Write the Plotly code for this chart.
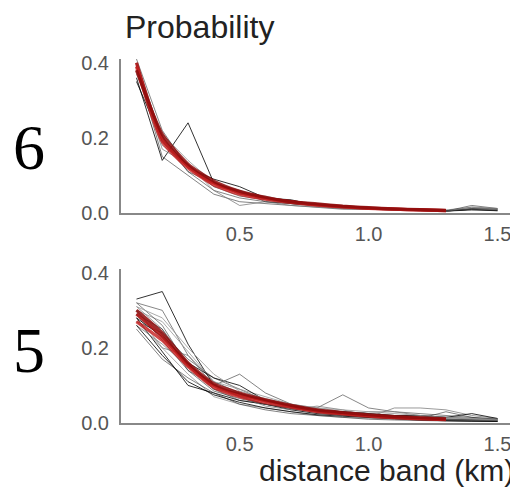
import plotly.graph_objects as go
from plotly.subplots import make_subplots

x_gray = [0.1, 0.2, 0.3, 0.4, 0.5, 0.6, 0.7, 0.8, 0.9, 1.0, 1.1, 1.2, 1.3, 1.4, 1.5]
x_red = [0.1, 0.2, 0.3, 0.4, 0.5, 0.6, 0.7, 0.8, 0.9, 1.0, 1.1, 1.2, 1.3]

gray_6 = [
    [0.36, 0.14, 0.24, 0.08, 0.05, 0.04, 0.025, 0.02, 0.015, 0.01, 0.01, 0.008, 0.005, 0.01, 0.008],
    [0.40, 0.20, 0.11, 0.06, 0.04, 0.03, 0.025, 0.02, 0.015, 0.012, 0.01, 0.008, 0.006, 0.012, 0.01],
    [0.38, 0.18, 0.13, 0.07, 0.06, 0.04, 0.03, 0.02, 0.02, 0.015, 0.01, 0.01, 0.008, 0.015, 0.01],
    [0.39, 0.15, 0.10, 0.05, 0.03, 0.025, 0.02, 0.015, 0.01, 0.01, 0.008, 0.006, 0.005, 0.02, 0.012],
    [0.37, 0.21, 0.14, 0.08, 0.05, 0.045, 0.03, 0.02, 0.018, 0.012, 0.01, 0.008, 0.006, 0.01, 0.008],
    [0.35, 0.19, 0.12, 0.09, 0.07, 0.04, 0.035, 0.02, 0.015, 0.012, 0.01, 0.008, 0.005, 0.008, 0.006],
    [0.41, 0.22, 0.12, 0.07, 0.045, 0.035, 0.025, 0.018, 0.012, 0.01, 0.008, 0.006, 0.005, 0.012, 0.01],
    [0.38, 0.17, 0.13, 0.06, 0.02, 0.03, 0.02, 0.015, 0.012, 0.01, 0.008, 0.006, 0.004, 0.016, 0.012],
    [0.39, 0.19, 0.11, 0.08, 0.06, 0.03, 0.025, 0.02, 0.015, 0.012, 0.01, 0.007, 0.005, 0.01, 0.006],
]
red_6 = [
    [0.40, 0.20, 0.125, 0.08, 0.055, 0.04, 0.03, 0.022, 0.017, 0.013, 0.01, 0.008, 0.006],
    [0.39, 0.19, 0.12, 0.075, 0.05, 0.037, 0.028, 0.021, 0.016, 0.012, 0.01, 0.008, 0.006],
    [0.38, 0.21, 0.13, 0.085, 0.058, 0.042, 0.03, 0.024, 0.018, 0.014, 0.011, 0.009, 0.007],
]

gray_5 = [
    [0.33, 0.35, 0.21, 0.10, 0.07, 0.05, 0.04, 0.03, 0.025, 0.02, 0.015, 0.012, 0.01, 0.01, 0.008],
    [0.32, 0.30, 0.18, 0.11, 0.08, 0.06, 0.045, 0.04, 0.075, 0.04, 0.03, 0.025, 0.02, 0.015, 0.01],
    [0.31, 0.25, 0.16, 0.09, 0.06, 0.05, 0.04, 0.03, 0.02, 0.015, 0.04, 0.04, 0.035, 0.02, 0.012],
    [0.30, 0.22, 0.14, 0.10, 0.13, 0.08, 0.05, 0.035, 0.03, 0.025, 0.02, 0.018, 0.015, 0.012, 0.01],
    [0.29, 0.20, 0.13, 0.07, 0.05, 0.04, 0.03, 0.02, 0.015, 0.012, 0.01, 0.008, 0.006, 0.005, 0.005],
    [0.28, 0.19, 0.10, 0.08, 0.06, 0.05, 0.035, 0.025, 0.02, 0.015, 0.012, 0.01, 0.008, 0.006, 0.005],
    [0.27, 0.24, 0.17, 0.12, 0.09, 0.06, 0.04, 0.03, 0.025, 0.02, 0.015, 0.012, 0.01, 0.008, 0.006],
    [0.26, 0.21, 0.15, 0.09, 0.07, 0.05, 0.04, 0.03, 0.02, 0.03, 0.03, 0.02, 0.015, 0.01, 0.008],
    [0.25, 0.17, 0.12, 0.08, 0.05, 0.035, 0.025, 0.02, 0.015, 0.01, 0.008, 0.006, 0.005, 0.004, 0.004],
    [0.30, 0.27, 0.19, 0.11, 0.09, 0.07, 0.05, 0.04, 0.03, 0.02, 0.02, 0.015, 0.012, 0.01, 0.008],
    [0.28, 0.23, 0.16, 0.12, 0.10, 0.06, 0.045, 0.035, 0.03, 0.025, 0.02, 0.02, 0.015, 0.025, 0.012],
    [0.32, 0.26, 0.15, 0.09, 0.08, 0.055, 0.04, 0.03, 0.025, 0.02, 0.015, 0.012, 0.01, 0.008, 0.006],
    [0.27, 0.20, 0.18, 0.10, 0.07, 0.045, 0.035, 0.045, 0.035, 0.02, 0.015, 0.01, 0.008, 0.006, 0.005],
    [0.29, 0.25, 0.14, 0.085, 0.065, 0.05, 0.038, 0.028, 0.022, 0.018, 0.015, 0.012, 0.03, 0.015, 0.01],
    [0.31, 0.28, 0.20, 0.13, 0.085, 0.065, 0.05, 0.04, 0.035, 0.03, 0.025, 0.02, 0.015, 0.012, 0.01],
    [0.26, 0.18, 0.11, 0.075, 0.055, 0.04, 0.03, 0.022, 0.018, 0.014, 0.01, 0.008, 0.006, 0.005, 0.004],
]
red_5 = [
    [0.29, 0.23, 0.155, 0.10, 0.075, 0.06, 0.045, 0.033, 0.026, 0.02, 0.016, 0.013, 0.01],
    [0.27, 0.22, 0.15, 0.095, 0.07, 0.055, 0.042, 0.03, 0.024, 0.018, 0.014, 0.011, 0.009],
    [0.30, 0.24, 0.16, 0.105, 0.08, 0.062, 0.047, 0.035, 0.028, 0.022, 0.017, 0.014, 0.011],
]

panel_labels = ["6", "5"]
y_ticks = [0.0, 0.2, 0.4]
x_ticks = [0.5, 1.0, 1.5]

gray_shades = ["rgba(0,0,0,0.8)", "rgba(70,70,70,0.65)", "rgba(120,120,120,0.75)",
               "rgba(30,30,30,0.55)", "rgba(150,150,150,0.8)"]
red_shades = ["rgba(170,18,18,0.9)", "rgba(200,30,30,0.8)", "rgba(140,12,12,0.85)"]

fig = make_subplots(rows=2, cols=1, vertical_spacing=0.154)

for row, (grays, reds) in enumerate([(gray_6, red_6), (gray_5, red_5)], start=1):
    for i, g in enumerate(grays):
        fig.add_trace(go.Scatter(x=x_gray, y=g, mode="lines",
                                 line=dict(color=gray_shades[i % len(gray_shades)], width=1),
                                 showlegend=False, hoverinfo="skip"), row=row, col=1)
    for i, r in enumerate(reds):
        fig.add_trace(go.Scatter(x=x_red, y=r, mode="lines",
                                 line=dict(color=red_shades[i % len(red_shades)], width=3.2,
                                           shape="spline", smoothing=0.6),
                                 showlegend=False, hoverinfo="skip"), row=row, col=1)

axis_font = dict(family="Liberation Sans, Arial", size=20, color="#555555")
for row in (1, 2):
    fig.update_xaxes(range=[0.04, 1.56], tickvals=x_ticks, ticktext=[f"{v:.1f}" for v in x_ticks],
                     showline=True, linecolor="#888888", linewidth=2, showgrid=False,
                     zeroline=False, ticks="", tickfont=axis_font, ticklabelstandoff=2,
                     row=row, col=1)
    fig.update_yaxes(range=[0, 0.41], tickvals=y_ticks, ticktext=[f"{v:.1f}" for v in y_ticks],
                     showline=True, linecolor="#888888", linewidth=2, showgrid=False,
                     zeroline=False, ticks="", tickfont=axis_font, ticklabelstandoff=6,
                     row=row, col=1)

# page body has an 8px default margin; size the figure to fit the 518x491 window
fig.update_layout(
    width=510, height=483,
    margin=dict(l=113, r=5, t=51, b=68),
    plot_bgcolor="white", paper_bgcolor="white",
)

fig.add_annotation(text="Probability", xref="paper", yref="paper", x=(199 - 121) / 392,
                   y=1 + (59 - 27) / 364, xanchor="center", yanchor="middle", showarrow=False,
                   font=dict(family="Liberation Sans, Arial", size=32, color="#222222"))
fig.add_annotation(text="distance band (km)", xref="paper", yref="paper", x=(516 - 121) / 392,
                   y=-(470 - 423) / 364, xanchor="right", yanchor="middle", showarrow=False,
                   font=dict(family="Liberation Sans, Arial", size=30, color="#222222"))
for lbl, py in zip(panel_labels, [147, 350]):
    fig.add_annotation(text=lbl, xref="paper", yref="paper", x=(29 - 121) / 392,
                       y=(423 - py) / 364, xanchor="center", yanchor="middle", showarrow=False,
                       font=dict(family="Liberation Serif, Times New Roman", size=64, color="#000000"))

fig.write_html("out.html")
